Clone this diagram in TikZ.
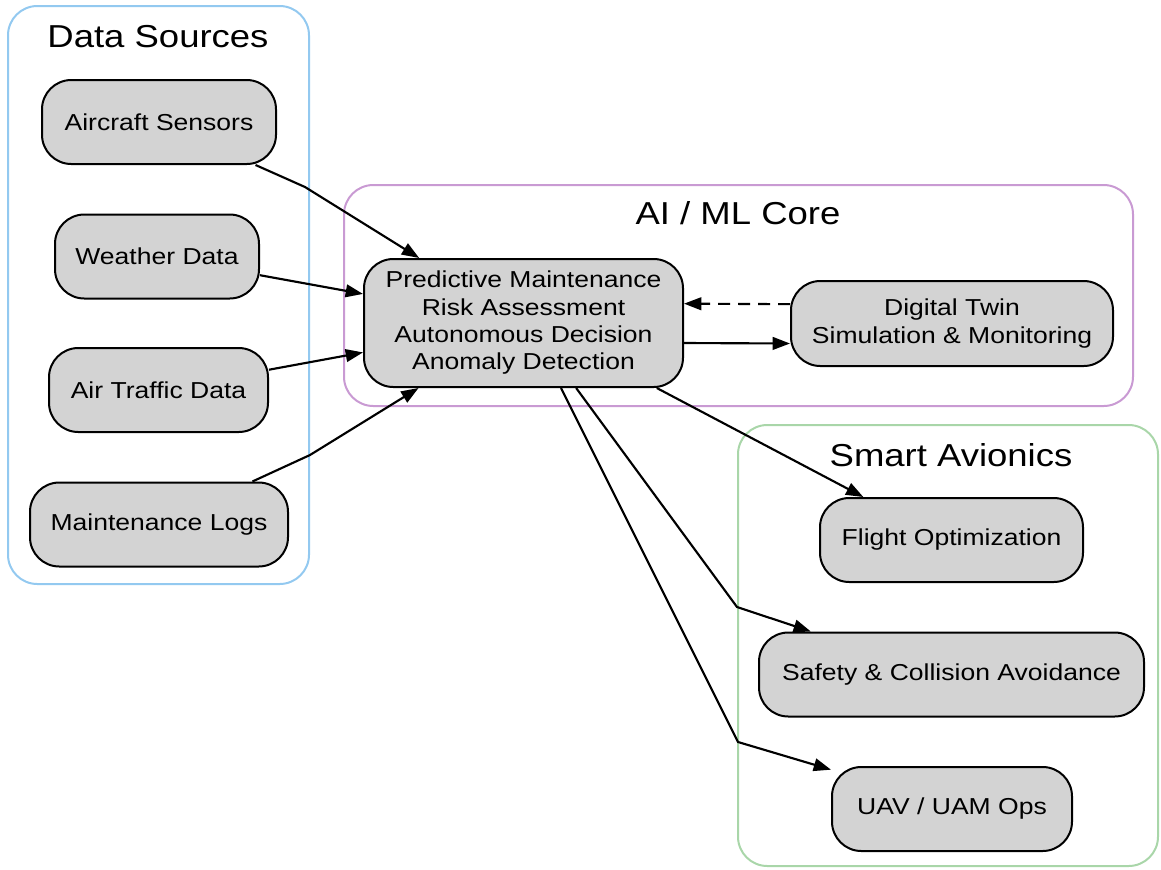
\documentclass[tikz,border=0pt]{standalone}
\usepackage{fontspec}
\setmainfont{Liberation Sans}[FakeStretch=1.15]
\usetikzlibrary{arrows.meta}
\definecolor{dsblue}{HTML}{93C9F0}
\definecolor{aipurple}{HTML}{C99AD3}
\definecolor{sagreen}{HTML}{A9D6A9}
\definecolor{boxgray}{HTML}{D3D3D3}
\tikzset{
  cluster/.style={line width=1.5pt, rounded corners=22pt},
  ctitle/.style={font=\fontsize{23.8pt}{28pt}\selectfont, inner sep=0pt},
  box/.style={draw=black, line width=1.5pt, fill=boxgray, rounded corners=22pt,
    minimum height=63pt, inner sep=0pt, align=center,
    font=\fontsize{17.3pt}{20.5pt}\selectfont},
  edge/.style={line width=1.6pt, -{Triangle[length=13pt,width=9.5pt]}},
}
\begin{document}
\begin{tikzpicture}[x=0.75pt,y=-0.75pt]
\useasboundingbox (0,0) rectangle (1161,869);
% clusters
\draw[cluster, draw=dsblue] (8,6) rectangle (309,584);
\draw[cluster, draw=aipurple] (344,185) rectangle (1133,406);
\draw[cluster, draw=sagreen] (738,425) rectangle (1158,866);
\node[ctitle] (tds) at (158,37) {Data Sources};
\node[ctitle] (tai) at (738,213) {AI / ML Core};
\node[ctitle] (tsa) at (951,455) {Smart Avionics};
% nodes
\node[box, minimum width=175.5pt] (as) at (159,122) {Aircraft Sensors};
\node[box, minimum width=153pt] (wd) at (157,256.5) {Weather Data};
\node[box, minimum width=164.25pt] (at) at (158.5,390) {Air Traffic Data};
\node[box, minimum width=193.5pt] (ml) at (159,524.5) {Maintenance Logs};
\node[box, minimum width=239.25pt, minimum height=96pt] (core) at (523.5,323)
  {Predictive Maintenance\\Risk Assessment\\Autonomous Decision\\Anomaly Detection};
\node[box, minimum width=241.5pt, minimum height=63.75pt] (dt) at (952,323.5)
  {Digital Twin\\Simulation \& Monitoring};
\node[box, minimum width=197.25pt] (fo) at (951.5,540) {Flight Optimization};
\node[box, minimum width=288.75pt] (sa) at (951.5,674.5) {Safety \& Collision Avoidance};
\node[box, minimum width=180pt] (uav) at (952,809) {UAV / UAM Ops};
% bend points
\coordinate (bA) at (305,187);
\coordinate (bM) at (310,455);
\coordinate (bS) at (737,607);
\coordinate (bU) at (738,742);
% edges
\draw[edge] (as) -- (bA) -- (core);
\draw[edge] (wd) -- (core);
\draw[edge] (at) -- (core);
\draw[edge] (ml) -- (bM) -- (core);
\draw[edge] ([yshift=-15pt]core.east) -- ([yshift=-15pt]dt.west);
\draw[edge, dash pattern=on 9pt off 6pt] ([yshift=14.5pt]dt.west) -- ([yshift=14.5pt]core.east);
\draw[edge] (core.-26.2) -- (fo.154.9);
\draw[edge] (core.-51.8) -- (bS) -- (sa.163.5);
\draw[edge] (core.-60.7) -- (bU) -- (uav.162.3);
\end{tikzpicture}
\end{document}
